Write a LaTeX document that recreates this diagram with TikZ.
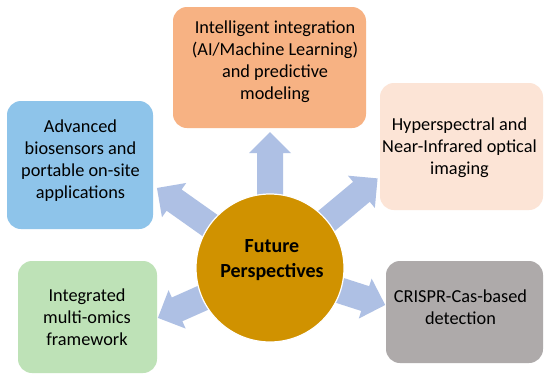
\documentclass[tikz,border=0pt]{standalone}
\usepackage{fontspec}
\setmainfont{Carlito}
\definecolor{orangebox}{HTML}{F7B283}
\definecolor{bluebox}{HTML}{8EC4EA}
\definecolor{peachbox}{HTML}{FCE4D6}
\definecolor{greenbox}{HTML}{BEE2B7}
\definecolor{graybox}{HTML}{AEAAAA}
\definecolor{goldcirc}{HTML}{D09200}
\definecolor{arrowblue}{HTML}{AEC0E4}
\tikzset{
  topic/.style={rounded corners=14pt, inner sep=0pt, align=center,
    font=\fontsize{18.3}{22}\selectfont, text=black},
  hub/.style={circle, fill=goldcirc, draw=white, line width=1.2pt,
    minimum size=148pt, inner sep=0pt, align=center},
  hubfont/.style={font=\fontsize{20}{25}\selectfont\bfseries, align=center},
  blockarr/.style={fill=arrowblue, draw=none}
}
\newcommand{\blockarrow}[3]{% name, angle, length
  \begin{scope}[shift={(270,268)}, rotate=#2, x=1pt, y=1pt]
    \fill[blockarr] (0,-13) -- (#3-21,-13) -- (#3-21,-21) -- (#3,0) -- (#3-21,21) -- (#3-21,13) -- (0,13) -- cycle;
    \coordinate (#1) at (#3,0);
  \end{scope}}
\begin{document}
\begin{tikzpicture}[x=1pt, y=-1pt]
\useasboundingbox (0,0) rectangle (550,378);
\fill[white] (0,0) rectangle (550,378);
% boxes
\fill[orangebox, rounded corners=14pt] (173,7) rectangle (366,128);
\node[topic] (ai) at (275,62) {Intelligent integration\\(AI/Machine Learning)\\and predictive\\modeling};
\fill[bluebox, rounded corners=14pt] (7,101) rectangle (153,229);
\node[topic] (bio) at (80.5,161) {Advanced\\biosensors and\\portable on-site\\applications};
\fill[peachbox, rounded corners=14pt] (380,83) rectangle (543,210);
\node[topic] (hyp) at (459.5,148) {Hyperspectral and\\Near-Infrared optical\\imaging};
\fill[greenbox, rounded corners=14pt] (18,261) rectangle (157,373);
\node[topic] (omics) at (87,317) {Integrated\\multi-omics\\framework};
\fill[graybox, rounded corners=14pt] (386,261) rectangle (543,363);
\node[topic] (crispr) at (460.5,307) {CRISPR-Cas-based\\detection};
% arrows
\blockarrow{tUp}{90}{136}
\blockarrow{tUL}{144.7}{138.5}
\blockarrow{tUR}{39.8}{140}
\blockarrow{tLL}{204}{122.7}
\blockarrow{tLR}{-17.8}{121}
% hub
\node[hub] (hubnode) at (270,268) {};
\node[hubfont] (hubtext) at (272,260.5) {Future\\Perspectives};
\end{tikzpicture}
\end{document}
